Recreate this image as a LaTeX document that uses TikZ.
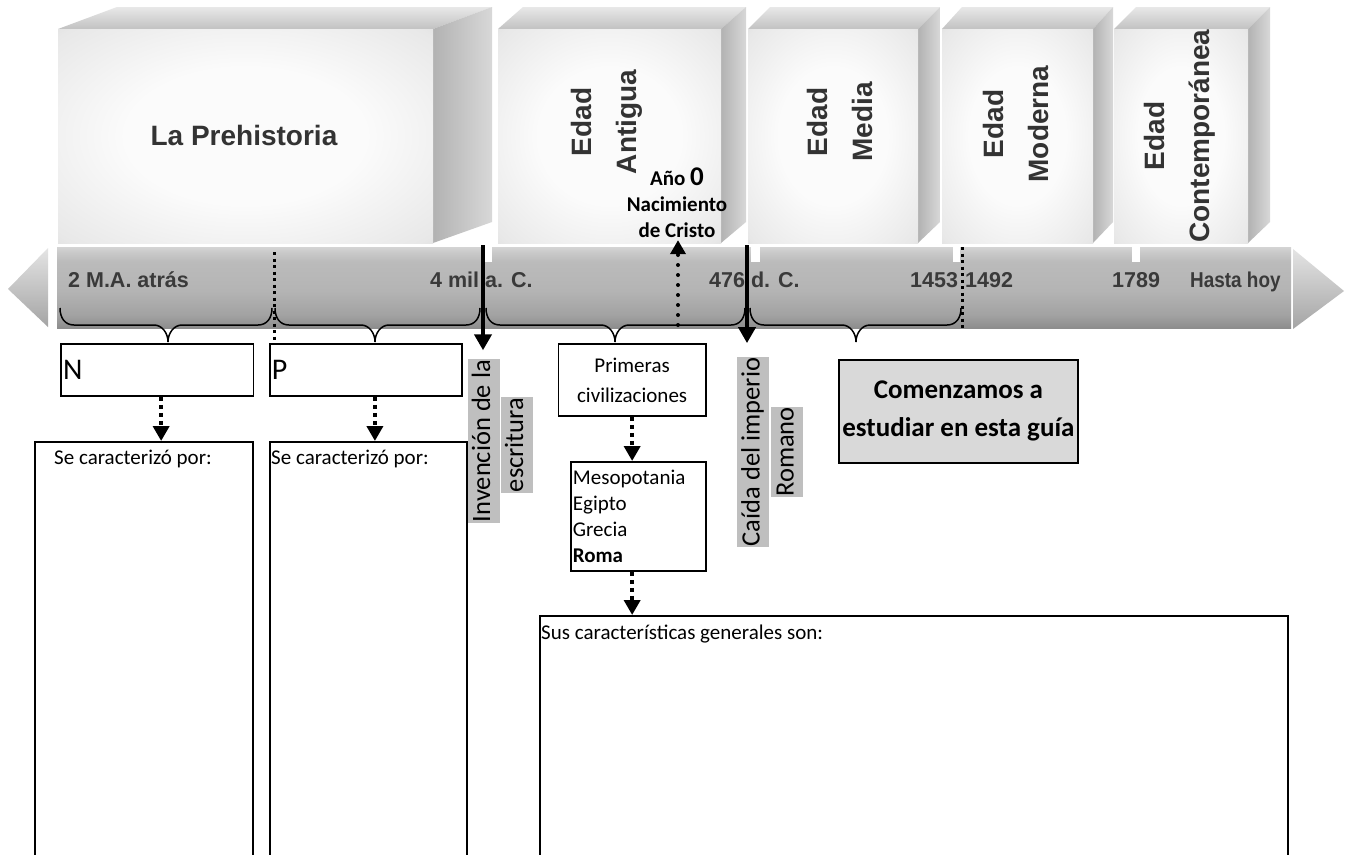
\documentclass[tikz,border=0pt]{standalone}
\usepackage{graphicx}
\usepackage{fontspec}
\setmainfont{Carlito}
\newfontfamily\arialf{Liberation Sans}
\usetikzlibrary{arrows.meta}
\definecolor{hlgray}{HTML}{BFBFBF}
\definecolor{boxgray}{HTML}{D9D9D9}
\definecolor{txtgray}{HTML}{333333}
\definecolor{tlgray}{HTML}{3A3A3A}
\definecolor{fA}{HTML}{FBFBFB}
\definecolor{fB}{HTML}{E8E8E8}
\definecolor{fC}{HTML}{BCBCBC}
\definecolor{fD}{HTML}{ABABAB}
\definecolor{tA}{HTML}{E8E8E8}
\definecolor{tB}{HTML}{C2C2C2}
\definecolor{sA}{HTML}{B2B2B2}
\definecolor{sB}{HTML}{D8D8D8}
\definecolor{b0}{HTML}{9C9C9C}
\definecolor{b1}{HTML}{686868}
\definecolor{b2}{HTML}{7A7A7A}
\definecolor{b3}{HTML}{A2A2A2}
\definecolor{b4}{HTML}{B4B4B4}
\definecolor{b5}{HTML}{BBBBBB}
\definecolor{b6}{HTML}{CACACA}
\definecolor{b7}{HTML}{E4E4E4}
\definecolor{b8}{HTML}{EDEDED}
\definecolor{b9}{HTML}{D0D0D0}
\definecolor{arA}{HTML}{E4E4E4}
\definecolor{arB}{HTML}{A4A4A4}
\pgfdeclareradialshading{frontshade}{\pgfpoint{0bp}{0bp}}{color(0bp)=(fA); color(16bp)=(fA); color(34bp)=(fB); color(50bp)=(fC); color(72bp)=(fD)}
\pgfdeclareverticalshading{barshade}{100bp}{color(0bp)=(b0); color(5bp)=(b1); color(18bp)=(b2); color(33bp)=(b3); color(48bp)=(b4); color(66bp)=(b5); color(72bp)=(b6); color(80bp)=(b7); color(90bp)=(b8); color(100bp)=(b9)}
\newcommand\tdbox[3]{%
  \shade[top color=tA, bottom color=tB] (#1,29) -- ({#1+#3},7) -- ({#2+#3},7) -- (#2,29) -- cycle;
  \shade[left color=sA, right color=sB] (#2,29) -- ({#2+#3},7) -- ({#2+#3},222) -- (#2,243) -- cycle;
  \shade[shading=frontshade] (#1,29) rectangle (#2,243);
}
\newcommand\brc[3]{%
  \draw[brace] (#1,308) .. controls (#1,318) and ({#1+5},325) .. ({#1+14},325) -- ({#2-14},325)
    .. controls ({#2-6},325) and (#2,333) .. (#2,342)
    .. controls (#2,333) and ({#2+6},325) .. ({#2+14},325) -- ({#3-14},325)
    .. controls ({#3-5},325) and (#3,318) .. (#3,308);
}
\begin{document}
\begin{tikzpicture}[x=1pt,y=-1pt,
  boxlbl/.style={font=\arialf\bfseries\fontsize{28}{30}\selectfont, text=txtgray, inner sep=0pt},
  vlbl/.style={rotate=90, align=center, font=\arialf\bfseries\fontsize{28}{45}\selectfont, text=txtgray, inner sep=0pt},
  tl/.style={font=\arialf\bfseries\fontsize{21.5}{24}\selectfont, text=tlgray, anchor=base west, inner sep=0pt},
  frame/.style={draw=black, line width=1.8pt, fill=white, inner sep=0pt},
  txt/.style={font=\fontsize{21}{26}\selectfont, inner sep=0pt, anchor=base west},
  hl/.style={rotate=90, fill=hlgray, font=\fontsize{26.5}{30}\selectfont, inner xsep=0.5pt, inner ysep=3pt, text height=19.5pt, text depth=6.5pt},
  boldarr/.style={line width=4.5pt, -{Triangle[width=17pt,length=16pt]}},
  dotarr/.style={line width=4pt, dash pattern=on 4pt off 4pt, -{Triangle[width=16pt,length=15pt]}},
  dotln/.style={line width=3pt, dash pattern=on 3pt off 3.5pt},
  roundarr/.style={line width=4pt, line cap=round, dash pattern=on 0pt off 10pt, -{Triangle[width=15pt,length=14pt]}},
  brace/.style={line width=1.5pt}
]
\useasboundingbox (0,0) rectangle (1349,854);
\clip (0,0) rectangle (1349,854);
\fill[white] (0,0) rectangle (1349,854);
% 3D period boxes
\tdbox{58}{433}{59}
\tdbox{498}{721}{25}
\tdbox{748}{918}{22}
\tdbox{942}{1093}{20}
\tdbox{1114}{1248}{22}
\node[boxlbl, anchor=base] (lp) at (244,145) {La Prehistoria};
\node[vlbl] (ea) at (607,122) {Edad\\Antigua};
\node[vlbl] (em) at (840,122) {Edad\\Media};
\node[vlbl] (emo) at (1016,124) {Edad\\Moderna};
\node[vlbl] (ec) at (1180,136) {Edad\\Contemporánea};
% timeline bar
\shade[shading=barshade] (57,247) rectangle (1291,328);
\shade[top color=arA, bottom color=arB] (8,289) -- (48,248) -- (48,327) -- cycle;
\shade[top color=arA, bottom color=arB] (1293,249) -- (1344,291) -- (1293,329) -- cycle;
\fill[white] (485,247) rectangle (492,262);
\fill[white] (751,247) rectangle (760,262);
\fill[white] (953,247) rectangle (960,262);
\fill[white] (1132,247) rectangle (1140,262);
\node[tl] (t1) at (68,287) {2 M.A. atrás};
\node[tl] (t2) at (430,287) {4 mil a. C.};
\node[tl] (t3) at (709,287) {476 d. C.};
\node[tl] (t4) at (910,287) {1453};
\node[tl] (t5) at (965,287) {1492};
\node[tl] (t6) at (1112,287) {1789};
\node[tl] (t7) at (1190,287) {\scalebox{0.88}[1]{Hasta hoy}};
% braces
\brc{60}{168}{272}
\brc{275}{375}{480}
\brc{486}{615}{745}
\brc{750}{856}{961}
% boxes
\node[frame, minimum width=192.5pt, minimum height=52pt, anchor=north west, text width=188pt, align=left, inner xsep=2pt, font=\fontsize{30}{36}\selectfont] (nbox) at (60,343) {N};
\node[frame, minimum width=192pt, minimum height=52pt, anchor=north west, text width=188pt, align=left, inner xsep=2pt, font=\fontsize{30}{36}\selectfont] (pbox) at (269,343) {P};
\node[frame, minimum width=218pt, minimum height=440pt, anchor=north west] (s1) at (34,441) {};
\node[txt] (s1t) at (54,464) {Se caracterizó por:};
\node[frame, minimum width=197pt, minimum height=440pt, anchor=north west] (s2) at (269,441) {};
\node[txt] (s2t) at (271,464) {Se caracterizó por:};
\node[frame, minimum width=147.5pt, minimum height=72pt, anchor=north west, align=center, font=\fontsize{21}{30}\selectfont] (prim) at (557.5,343) {Primeras\\civilizaciones};
\node[frame, minimum width=135pt, minimum height=109pt, anchor=north west, text width=131pt, inner xsep=2pt, align=left, font=\fontsize{21}{26}\selectfont] (meso) at (570,461) {Mesopotania\\Egipto\\Grecia\\\textbf{Roma}};
\node[frame, fill=boxgray, minimum width=239pt, minimum height=103pt, anchor=north west, align=center, font=\bfseries\fontsize{27}{38}\selectfont] (com) at (838,359) {Comenzamos a\\estudiar en esta guía};
\node[frame, minimum width=748pt, minimum height=300pt, anchor=north west] (big) at (539,615) {};
\node[txt] (bigt) at (541,639) {Sus características generales son:};
% highlighted rotated labels
\node[hl] (inv1) at (483.5,441) {Invención de la};
\node[hl] (inv2) at (516.5,445) {escritura};
\node[hl] (cai1) at (753,452) {Caída del imperio};
\node[hl] (cai2) at (787,452) {Romano};
% Año 0
\node[align=center, inner sep=0pt, font=\bfseries\fontsize{21}{26}\selectfont] (ano) at (677,203) {Año {\fontsize{27}{26}\selectfont 0}\\Nacimiento\\de Cristo};
% dotted lines
\coordinate (d1a) at (274,252);
\draw[dotln] (d1a) -- (d1a |- pbox.north);
\coordinate (d2a) at (962,247);
\coordinate (d2b) at (962,328);
\draw[dotln] (d2a) -- (d2b);
% arrows
\coordinate (a0s) at (678,325);
\draw[roundarr, shorten >=2pt] (a0s) -- (a0s |- ano.south);
\coordinate (a1s) at (483,245);
\draw[boldarr, shorten >=9pt] (a1s) -- (a1s |- inv1.east);
\coordinate (a2s) at (747,245);
\draw[boldarr, shorten >=14pt] (a2s) -- (a2s |- cai1.east);
\draw[dotarr] ([xshift=4pt]nbox.south) -- ([xshift=4pt]nbox.south |- s1.north);
\draw[dotarr] ([xshift=9pt]pbox.south) -- ([xshift=9pt]pbox.south |- s2.north);
\draw[dotarr] (prim.south) -- (prim.south |- meso.north);
\draw[dotarr] (prim.south |- meso.south) -- (prim.south |- big.north);
\end{tikzpicture}
\end{document}
